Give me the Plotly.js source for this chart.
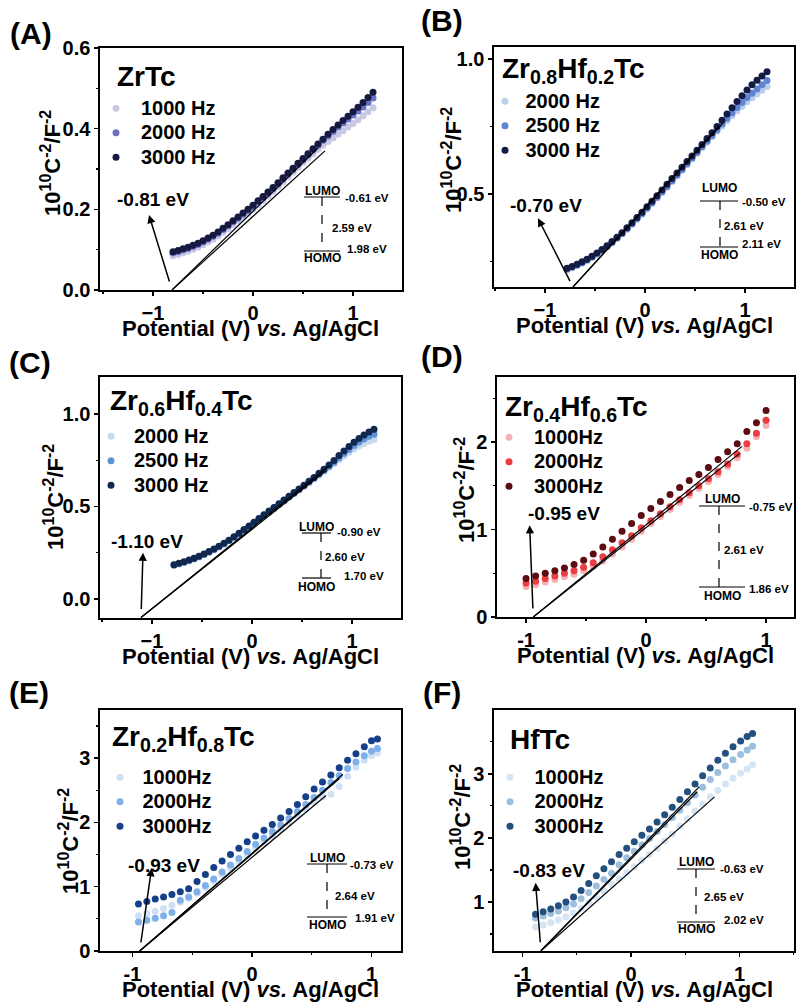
<!DOCTYPE html>
<html><head><meta charset="utf-8">
<script src="https://cdn.plot.ly/plotly-3.0.1.min.js"></script>
<style>html,body{margin:0;padding:0;background:#fff}</style>
</head><body><div id="chart" style="width:797px;height:1003px"></div>
<script>
// ---------------- data ----------------
const panelLabels = ['(A)','(B)','(C)','(D)','(E)','(F)'];
const sampleNames = ['ZrTc','Zr<sub>0.8</sub>Hf<sub>0.2</sub>Tc','Zr<sub>0.6</sub>Hf<sub>0.4</sub>Tc','Zr<sub>0.4</sub>Hf<sub>0.6</sub>Tc','Zr<sub>0.2</sub>Hf<sub>0.8</sub>Tc','HfTc'];
const freqA = ['1000 Hz','2000 Hz','3000 Hz'];
const freqB = ['2000 Hz','2500 Hz','3000 Hz'];
const freqC = ['2000 Hz','2500 Hz','3000 Hz'];
const freqD = ['1000Hz','2000Hz','3000Hz'];
const freqE = ['1000Hz','2000Hz','3000Hz'];
const freqF = ['1000Hz','2000Hz','3000Hz'];
const onsetLabels = ['-0.81 eV','-0.70 eV','-1.10 eV','-0.95 eV','-0.93 eV','-0.83 eV'];
const lumoLabels = ['-0.61 eV','-0.50 eV','-0.90 eV','-0.75 eV','-0.73 eV','-0.63 eV'];
const gapLabels  = ['2.59 eV','2.61 eV','2.60 eV','2.61 eV','2.64 eV','2.65 eV'];
const homoLabels = ['1.98 eV','2.11 eV','1.70 eV','1.86 eV','1.91 eV','2.02 eV'];

const xA = [-0.80,-0.75,-0.70,-0.65,-0.60,-0.55,-0.50,-0.45,-0.40,-0.35,-0.30,-0.25,-0.20,-0.15,-0.10,-0.05,0.00,0.05,0.10,0.15,0.20,0.25,0.30,0.35,0.40,0.45,0.50,0.55,0.60,0.65,0.70,0.75,0.80,0.85,0.90,0.95,1.00,1.05,1.10,1.15,1.20];
const yA1000 = [0.085,0.088,0.092,0.096,0.101,0.106,0.112,0.119,0.126,0.134,0.143,0.152,0.162,0.171,0.181,0.190,0.200,0.211,0.222,0.233,0.244,0.256,0.268,0.280,0.292,0.304,0.316,0.327,0.338,0.349,0.359,0.368,0.377,0.386,0.395,0.404,0.413,0.422,0.432,0.442,0.452];
const yA2000 = [0.092,0.095,0.099,0.103,0.108,0.113,0.119,0.126,0.133,0.141,0.150,0.159,0.169,0.178,0.188,0.197,0.207,0.218,0.229,0.240,0.251,0.263,0.275,0.287,0.299,0.311,0.323,0.335,0.347,0.359,0.371,0.382,0.393,0.404,0.414,0.424,0.434,0.444,0.454,0.465,0.476];
const yA3000 = [0.095,0.098,0.102,0.106,0.111,0.116,0.122,0.129,0.136,0.144,0.153,0.162,0.172,0.181,0.191,0.200,0.210,0.221,0.232,0.243,0.254,0.266,0.278,0.290,0.302,0.314,0.326,0.338,0.350,0.362,0.374,0.386,0.398,0.409,0.420,0.431,0.442,0.453,0.465,0.477,0.490];

const xB = [-0.78,-0.73,-0.68,-0.63,-0.58,-0.53,-0.48,-0.43,-0.38,-0.33,-0.28,-0.23,-0.18,-0.13,-0.08,-0.03,0.02,0.07,0.12,0.17,0.22,0.27,0.32,0.37,0.42,0.47,0.52,0.57,0.62,0.67,0.72,0.77,0.82,0.87,0.92,0.97,1.02,1.07,1.12,1.17,1.22];
const yB2000 = [0.220,0.227,0.235,0.244,0.254,0.265,0.277,0.290,0.304,0.319,0.335,0.352,0.369,0.387,0.406,0.425,0.445,0.465,0.485,0.505,0.525,0.546,0.567,0.588,0.609,0.630,0.651,0.672,0.692,0.712,0.732,0.752,0.771,0.790,0.808,0.825,0.841,0.856,0.870,0.884,0.898];
const yB2500 = [0.222,0.229,0.237,0.246,0.256,0.267,0.279,0.292,0.306,0.321,0.337,0.354,0.372,0.390,0.409,0.428,0.448,0.468,0.488,0.508,0.528,0.549,0.570,0.591,0.612,0.633,0.654,0.675,0.696,0.717,0.738,0.759,0.780,0.800,0.820,0.839,0.857,0.873,0.889,0.904,0.920];
const yB3000 = [0.225,0.232,0.240,0.249,0.259,0.270,0.282,0.295,0.309,0.324,0.340,0.357,0.375,0.394,0.413,0.433,0.453,0.473,0.494,0.515,0.536,0.557,0.578,0.599,0.620,0.641,0.662,0.683,0.705,0.727,0.750,0.773,0.796,0.819,0.842,0.864,0.885,0.904,0.921,0.937,0.952];

const xC = [-0.78,-0.73,-0.68,-0.63,-0.58,-0.53,-0.48,-0.43,-0.38,-0.33,-0.28,-0.23,-0.18,-0.13,-0.08,-0.03,0.02,0.07,0.12,0.17,0.22,0.27,0.32,0.37,0.42,0.47,0.52,0.57,0.62,0.67,0.72,0.77,0.82,0.87,0.92,0.97,1.02,1.07,1.12,1.17,1.22];
const yC2000 = [0.180,0.188,0.196,0.205,0.215,0.226,0.238,0.251,0.265,0.280,0.296,0.313,0.331,0.349,0.368,0.388,0.408,0.428,0.448,0.468,0.488,0.508,0.528,0.548,0.568,0.588,0.608,0.628,0.648,0.668,0.689,0.710,0.731,0.752,0.773,0.793,0.811,0.827,0.841,0.852,0.862];
const yC2500 = [0.183,0.191,0.199,0.208,0.218,0.229,0.241,0.254,0.268,0.283,0.299,0.316,0.334,0.353,0.372,0.392,0.412,0.432,0.452,0.472,0.492,0.512,0.532,0.552,0.572,0.592,0.612,0.632,0.653,0.674,0.695,0.717,0.739,0.763,0.786,0.808,0.829,0.848,0.865,0.879,0.890];
const yC3000 = [0.185,0.193,0.201,0.210,0.220,0.231,0.243,0.256,0.270,0.285,0.301,0.318,0.336,0.355,0.375,0.395,0.415,0.435,0.455,0.475,0.495,0.515,0.535,0.555,0.575,0.595,0.615,0.636,0.657,0.679,0.701,0.724,0.748,0.775,0.800,0.824,0.847,0.868,0.887,0.903,0.918];

const xD = [-1.00,-0.92,-0.84,-0.76,-0.68,-0.60,-0.52,-0.44,-0.36,-0.28,-0.20,-0.12,-0.04,0.04,0.12,0.20,0.28,0.36,0.44,0.52,0.60,0.68,0.76,0.84,0.92,1.00];
const yD1000 = [0.35,0.37,0.40,0.43,0.46,0.49,0.53,0.58,0.64,0.72,0.80,0.89,0.98,1.07,1.15,1.23,1.31,1.39,1.47,1.55,1.63,1.72,1.82,1.93,2.06,2.19];
const yD2000 = [0.39,0.41,0.44,0.47,0.50,0.53,0.57,0.62,0.69,0.77,0.85,0.93,1.02,1.10,1.18,1.26,1.34,1.42,1.50,1.58,1.66,1.75,1.86,1.98,2.10,2.25];
const yD3000 = [0.44,0.47,0.50,0.53,0.56,0.60,0.65,0.72,0.80,0.89,0.98,1.07,1.16,1.24,1.32,1.40,1.48,1.56,1.63,1.71,1.80,1.89,1.98,2.12,2.22,2.36];

const xE = [-0.95,-0.88,-0.81,-0.74,-0.67,-0.60,-0.53,-0.46,-0.39,-0.32,-0.25,-0.18,-0.11,-0.04,0.03,0.10,0.17,0.24,0.31,0.38,0.45,0.52,0.59,0.66,0.73,0.80,0.87,0.94,1.00,1.05];
const yE1000 = [0.55,0.58,0.62,0.66,0.71,0.76,0.82,0.90,0.99,1.09,1.19,1.29,1.39,1.49,1.59,1.69,1.79,1.89,1.99,2.10,2.21,2.32,2.40,2.44,2.56,2.72,2.86,2.97,3.04,3.08];
const yE2000 = [0.45,0.48,0.51,0.55,0.60,0.79,0.84,0.92,1.02,1.12,1.23,1.34,1.44,1.55,1.66,1.76,1.86,1.96,2.06,2.17,2.28,2.39,2.50,2.62,2.73,2.84,2.94,3.04,3.11,3.15];
const yE3000 = [0.73,0.77,0.81,0.84,0.88,0.92,0.97,1.08,1.19,1.30,1.40,1.50,1.60,1.70,1.79,1.88,1.97,2.07,2.17,2.28,2.40,2.52,2.63,2.74,2.85,2.97,3.07,3.18,3.27,3.30];

const xF = [-0.88,-0.81,-0.74,-0.67,-0.60,-0.53,-0.46,-0.39,-0.32,-0.25,-0.18,-0.11,-0.04,0.03,0.10,0.17,0.24,0.31,0.38,0.45,0.52,0.59,0.66,0.73,0.80,0.87,0.94,1.01,1.07,1.12];
const yF1000 = [0.61,0.64,0.68,0.72,0.77,0.83,0.90,0.99,1.08,1.17,1.27,1.36,1.46,1.55,1.65,1.74,1.84,1.95,2.06,2.18,2.30,2.42,2.53,2.64,2.74,2.84,2.93,3.01,3.08,3.14];
const yF2000 = [0.75,0.78,0.82,0.86,0.91,0.97,1.05,1.15,1.25,1.35,1.45,1.58,1.69,1.79,1.89,1.99,2.10,2.21,2.32,2.43,2.55,2.67,2.79,2.91,3.02,3.12,3.22,3.30,3.37,3.43];
const yF3000 = [0.81,0.85,0.89,0.94,1.00,1.08,1.18,1.29,1.41,1.52,1.63,1.74,1.84,1.94,2.04,2.14,2.25,2.36,2.48,2.60,2.72,2.84,2.97,3.09,3.21,3.32,3.42,3.51,3.58,3.63];

// tangent (onset) fits: start at the onset, end points of each fitted line
const fitStartX = [-0.81,-0.72,-1.11,-0.94,-0.94,-0.83];
const fitStartY = [0,0.156,-0.1,0,0,0.24];
const fitEndX = [[0.72,0.65],[0.78,0.74],[0.77,0.73],[0.80,0.78],[0.76,0.73,0.62],[0.63,0.61,0.77]];
const fitEndY = [[0.345,0.352],[0.763,0.752],[0.72,0.69],[1.95,1.87],[2.75,2.68,2.42],[2.80,2.72,2.64]];
const arrowHeadX = [-1.04,-1.07,-1.09,-0.97,-0.84,-0.88];
const arrowHeadY = [0.186,0.41,0.25,1.05,1.29,1.30];

// ---------------- styling / layout ----------------
const FONT = 'Liberation Sans, Arial, Helvetica, sans-serif';
const W = 797, H = 1003;
const PX = x => x / W, PY = y => 1 - y / H;

const panelX = [xA,xB,xC,xD,xE,xF];
const panelY = [[yA1000,yA2000,yA3000],[yB2000,yB2500,yB3000],[yC2000,yC2500,yC3000],[yD1000,yD2000,yD3000],[yE1000,yE2000,yE3000],[yF1000,yF2000,yF3000]];
const panelFreq = [freqA,freqB,freqC,freqD,freqE,freqF];
const colors = [
  ['#c9c9e6','#6a72c4','#161a40'],
  ['#bcd0ec','#5e84d2','#141b45'],
  ['#c6d9ef','#5e93d6','#10284f'],
  ['#f5b2b4','#ec3d42','#5c0d12'],
  ['#d0e0f4','#7eb0ea','#153f88'],
  ['#d6e5f3','#9dbfdf','#23507f']];

const G = [
  {l:100,r:402,t:48,b:290},
  {l:494,r:794,t:47,b:287},
  {l:100,r:401,t:377,b:618},
  {l:497,r:794,t:377,b:617},
  {l:100,r:401,t:710,b:951},
  {l:494,r:794,t:710,b:951}];
const xRanges = [[-1.53,1.49],[-1.51,1.49],[-1.52,1.49],[-1.242,1.233],[-1.272,1.247],[-1.263,1.502]];
const yRanges = [[0,0.6],[0.156,1.044],[-0.103,1.2],[0,2.743],[0,3.75],[0.236,3.995]];
const yTick = [{d:0.2,m:0.1,f:'.1f'},{d:0.5,m:0.25,f:'.1f'},{d:0.5,m:0.25,f:'.1f'},{d:1,m:0.5,f:'d'},{d:1,m:0.5,f:'d'},{d:1,m:0.5,f:'d'}];
// legend: marker centre x, first row centre y, item width (controls marker-text gap)
const legPos = [{mx:117,ry:105,iw:40},{mx:506,ry:98,iw:31},{mx:112,ry:433,iw:36},{mx:510,ry:434,iw:40},{mx:121,ry:774,iw:35},{mx:511,ry:774,iw:39}];
const namePos = [{x:115,y:77},{x:500,y:70},{x:108,y:402},{x:503,y:408},{x:110,y:738},{x:508,y:739}];
const onsetPos = [{x:153,y:200},{x:546,y:205},{x:147,y:541},{x:564,y:513},{x:164,y:865},{x:549,y:870}];
const yTitlePos = [{x:51,y:163},{x:452,y:160},{x:54,y:497},{x:465,y:490},{x:69,y:841},{x:461,y:817}];
const labelPos = [{x:31,y:33},{x:442,y:20},{x:30,y:362},{x:442,y:356},{x:29,y:692},{x:442,y:692}];
const INS = [
 {x1:304,x2:340,yl:197,yh:251,xd:322,lx:343,ly:198,gx:330,gy:228,hx:345,hy:249,Ly:191,Hy:258},
 {x1:700,x2:738,yl:201,yh:247,xd:720,lx:740,ly:202,gx:722,gy:226,hx:740,hy:244,Ly:188,Hy:255},
 {x1:302,x2:331,yl:533,yh:578,xd:321,lx:335,ly:532,gx:323,gy:557,hx:342,hy:576,Ly:527,Hy:587},
 {x1:699,x2:745,yl:506,yh:587,xd:719,lx:747,ly:507,gx:722,gy:550,hx:747,hy:589,Ly:499,Hy:596},
 {x1:307,x2:347,yl:864,yh:917,xd:327,lx:348,ly:865,gx:333,gy:896,hx:353,hy:918,Ly:858,Hy:925},
 {x1:677,x2:715,yl:869,yh:922,xd:696,lx:718,ly:869,gx:702,gy:897,hx:722,hy:920,Ly:862,Hy:929}];

const traces = [];
const layout = {
  width: W, height: H, margin: {l:0,r:0,t:0,b:0},
  paper_bgcolor: '#fff', plot_bgcolor: '#fff',
  font: {family: FONT, color: '#000'},
  showlegend: true, annotations: [], shapes: []
};
const bold = (size) => ({family: FONT, size: size, color: '#000', weight: 'bold'});
const SUP = s => '<sup><span style="font-size:16px">' + s + '</span></sup>';

for (let p = 0; p < 6; p++) {
  const n = p === 0 ? '' : String(p + 1);
  const xa = 'x' + n, ya = 'y' + n;
  const legName = p === 0 ? 'legend' : 'legend' + (p + 1);
  const g = G[p];
  for (let s = 0; s < 3; s++) {
    traces.push({
      type: 'scatter', mode: 'markers', x: panelX[p], y: panelY[p][s],
      xaxis: xa, yaxis: ya, name: '<span style="font-size:20px">' + panelFreq[p][s] + '</span>', legend: legName,
      marker: {size: 7, color: colors[p][s]}, cliponaxis: true, hoverinfo: 'skip'
    });
  }
  for (let k = 0; k < fitEndX[p].length; k++) {
    traces.push({
      type: 'scatter', mode: 'lines', x: [fitStartX[p], fitEndX[p][k]], y: [fitStartY[p], fitEndY[p][k]],
      xaxis: xa, yaxis: ya, showlegend: false, line: {color: '#000', width: 1.2}, hoverinfo: 'skip'
    });
  }
  const isHyphen = p >= 3;
  layout['xaxis' + n] = {
    domain: [PX(g.l), PX(g.r)], anchor: ya, range: xRanges[p],
    showline: true, mirror: true, linecolor: '#000', linewidth: 1.6,
    ticks: 'outside', ticklen: 4, tickwidth: 1.5, tickcolor: '#000',
    tickvals: [-1, 0, 1], ticktext: isHyphen ? ['-1','0','1'] : ['\u22121','0','1'],
    minor: {dtick: 0.5, tick0: 0, ticks: 'outside', ticklen: 2.5, tickwidth: 1.2, tickcolor: '#000'},
    tickfont: bold(20), showgrid: false, zeroline: false, fixedrange: true
  };
  layout['yaxis' + n] = {
    domain: [PY(g.b), PY(g.t)], anchor: xa, range: yRanges[p],
    showline: true, mirror: true, linecolor: '#000', linewidth: 1.6,
    ticks: 'outside', ticklen: 4, tickwidth: 1.5, tickcolor: '#000',
    tick0: 0, dtick: yTick[p].d, tickformat: yTick[p].f,
    minor: {dtick: yTick[p].m, tick0: 0, ticks: 'outside', ticklen: 2.5, tickwidth: 1.2, tickcolor: '#000'},
    tickfont: bold(20), showgrid: false, zeroline: false, fixedrange: true
  };
  layout[legName] = {
    x: PX(legPos[p].mx - 21 - (legPos[p].iw - 30) / 2), y: PY(legPos[p].ry - 14), xanchor: 'left', yanchor: 'top',
    bgcolor: 'rgba(0,0,0,0)', borderwidth: 0, font: bold(16.5), itemwidth: legPos[p].iw,
    tracegroupgap: 0, traceorder: 'normal'
  };
  const A = layout.annotations, S = layout.shapes;
  A.push({xref:'paper',yref:'paper',x:PX(labelPos[p].x),y:PY(labelPos[p].y),xanchor:'center',yanchor:'middle',
    text: panelLabels[p], showarrow:false, font: bold(30)});
  A.push({xref:'paper',yref:'paper',x:PX(namePos[p].x),y:PY(namePos[p].y),xanchor:'left',yanchor:'middle',
    text: sampleNames[p], showarrow:false, font: bold(28)});
  A.push({xref:'paper',yref:'paper',x:PX((g.l+g.r)/2),y:PY(g.b+38),xanchor:'center',yanchor:'middle',
    text:'Potential (V) <i>vs.</i> Ag/AgCl', showarrow:false, font: bold(22)});
  A.push({xref:'paper',yref:'paper',x:PX(yTitlePos[p].x),y:PY(yTitlePos[p].y),xanchor:'center',yanchor:'middle',
    textangle:-90, text:'10' + SUP('10') + 'C' + SUP('-2') + '/F' + SUP('-2'), showarrow:false, font: bold(22)});
  A.push({xref:xa,yref:ya,axref:xa,ayref:ya,x:arrowHeadX[p],y:arrowHeadY[p],ax:fitStartX[p],ay:fitStartY[p],
    text:' ',showarrow:true,arrowhead:2,arrowsize:1.1,arrowwidth:1.5,arrowcolor:'#000',standoff:0,startstandoff:0});
  A.push({xref:'paper',yref:'paper',x:PX(onsetPos[p].x),y:PY(onsetPos[p].y),xanchor:'center',yanchor:'middle',
    text: onsetLabels[p], showarrow:false, font: bold(19)});
  const I = INS[p];
  S.push({type:'line',xref:'paper',yref:'paper',x0:PX(I.x1),x1:PX(I.x2),y0:PY(I.yl),y1:PY(I.yl),line:{color:'#000',width:1.2}});
  S.push({type:'line',xref:'paper',yref:'paper',x0:PX(I.x1),x1:PX(I.x2),y0:PY(I.yh),y1:PY(I.yh),line:{color:'#000',width:1.2}});
  S.push({type:'line',xref:'paper',yref:'paper',x0:PX(I.xd),x1:PX(I.xd),y0:PY(I.yl),y1:PY(I.yh),line:{color:'#000',width:1.2,dash:'dash'}});
  const cx = (I.x1 + I.x2) / 2;
  A.push({xref:'paper',yref:'paper',x:PX(cx),y:PY(I.Ly),xanchor:'center',yanchor:'middle',text:'LUMO',showarrow:false,font:bold(12)});
  A.push({xref:'paper',yref:'paper',x:PX(cx),y:PY(I.Hy),xanchor:'center',yanchor:'middle',text:'HOMO',showarrow:false,font:bold(12)});
  A.push({xref:'paper',yref:'paper',x:PX(I.lx),y:PY(I.ly),xanchor:'left',yanchor:'middle',text:lumoLabels[p],showarrow:false,font:bold(11.5)});
  A.push({xref:'paper',yref:'paper',x:PX(I.gx),y:PY(I.gy),xanchor:'left',yanchor:'middle',text:gapLabels[p],showarrow:false,font:bold(11.5)});
  A.push({xref:'paper',yref:'paper',x:PX(I.hx),y:PY(I.hy),xanchor:'left',yanchor:'middle',text:homoLabels[p],showarrow:false,font:bold(11.5)});
}

Plotly.newPlot('chart', traces, layout, {staticPlot: true, displayModeBar: false});
</script>
</body></html>
